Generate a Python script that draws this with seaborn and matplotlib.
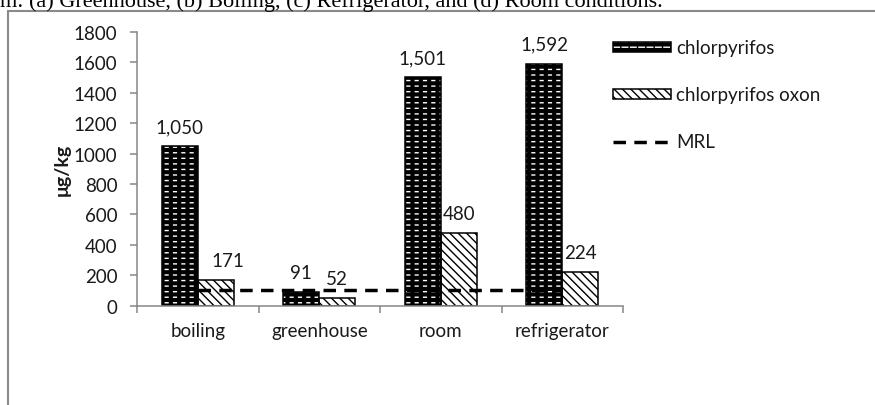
import numpy as np
import pandas as pd
import seaborn as sns
import matplotlib.pyplot as plt
from matplotlib.patches import Patch, Rectangle
from matplotlib.lines import Line2D
from matplotlib.legend_handler import HandlerTuple

# data
conditions = ["boiling", "greenhouse", "room", "refrigerator"]
chlorpyrifos = [1050, 91, 1501, 1592]
oxon = [171, 52, 480, 224]
mrl = [100, 100, 100, 100]
series = ["chlorpyrifos", "chlorpyrifos oxon"]
yticks = [0, 200, 400, 600, 800, 1000, 1200, 1400, 1600, 1800]
caption = "m: (a) Greenhouse, (b) Boiling, (c) Refrigerator, and (d) Room conditions."

sns.set_style("white")
plt.rcParams["font.family"] = ["Lato", "DejaVu Sans"]
plt.rcParams["hatch.linewidth"] = 1.0
FS = 13.5
GRAY = "#868686"
TXT = "#1a1a1a"

df = pd.DataFrame({
    "condition": conditions * 2,
    "value": chlorpyrifos + oxon,
    "series": [series[0]] * 4 + [series[1]] * 4,
})

fig = plt.figure(figsize=(8.75, 4.06), dpi=100)
ax = fig.add_axes([137 / 875, 99.3 / 406, 486 / 875, 273.7 / 406])

sns.barplot(data=df, x="condition", y="value", hue="series", order=conditions,
            hue_order=series, palette=["black", "white"], width=0.59,
            legend=False, ax=ax)

# chlorpyrifos: black with white dashed rows (white lines broken by thick black verticals)
for bar in ax.containers[0]:
    bar.set_facecolor("black")
    bar.set_edgecolor("white")
    bar.set_hatch("---")
    bar.set_linewidth(0)
with plt.rc_context({"hatch.linewidth": 3.0}):
    for bar in ax.containers[0]:
        ax.add_patch(Rectangle(bar.get_xy(), bar.get_width(), bar.get_height(),
                               fill=False, edgecolor="black", hatch="||", lw=1.1))
    h1b = Patch(fill=False, edgecolor="black", hatch="||", lw=1.1)
# oxon: white with dense diagonal hatching
for bar in ax.containers[1]:
    bar.set_facecolor("white")
    bar.set_edgecolor("black")
    bar.set_linewidth(1.1)
    bar.set_hatch("\\\\\\\\")

# value labels
for i, cont in enumerate(ax.containers[:2]):
    lbls = ax.bar_label(cont, labels=[f"{int(v.get_height()):,}" for v in cont],
                        padding=8, fontsize=FS, color=TXT)
    if i == 1:
        lbls[0].xyann = (9, 8)

# MRL dashed line
ax.plot(np.arange(len(conditions)), mrl, color="black", lw=2.5,
        dashes=(3.6, 2.4), zorder=5)

ax.set_ylim(0, 1800)
ax.set_xlim(-0.5, len(conditions) - 0.5)
ax.set_yticks(yticks)
ax.set_yticklabels([str(t) for t in yticks], fontsize=FS, color=TXT)
ax.set_xticks(np.arange(len(conditions) + 1) - 0.5)
ax.set_xticklabels([])
ax.set_xticks(np.arange(len(conditions)), minor=True)
ax.set_xticklabels(conditions, minor=True, fontsize=FS, color=TXT)
ax.tick_params(axis="x", which="major", direction="out", length=5, width=1.1,
               color=GRAY, bottom=True)
ax.tick_params(axis="x", which="minor", length=0, pad=12)
ax.tick_params(axis="y", direction="out", length=5, width=1.1, color=GRAY,
               left=True, pad=9)
ax.set_xlabel("")
ax.set_ylabel("\u03bcg/kg", fontsize=FS + 0.5, fontweight="bold", color=TXT)
ax.yaxis.set_label_coords(-0.136, 0.5)
sns.despine(ax=ax)
for s in ["left", "bottom"]:
    ax.spines[s].set_color(GRAY)
    ax.spines[s].set_linewidth(1.1)

# legend (first handle: two patches stacked on top of each other)
h1 = (Patch(facecolor="black", edgecolor="white", hatch="---", lw=0), h1b)
h2 = Patch(facecolor="white", edgecolor="black", hatch="\\\\\\\\", lw=1.1)
h3 = Line2D([], [], color="black", lw=2.5, dashes=(3.6, 2.4))
fig.legend([h1, h2, h3], [series[0], series[1], "MRL"],
           handler_map={tuple: HandlerTuple(ndivide=1)},
           loc="center left", bbox_to_anchor=(613 / 875, 1 - 96 / 406),
           frameon=False, fontsize=FS, handlelength=3.1, handleheight=0.4,
           handletextpad=0.27, labelspacing=1.6, borderpad=0,
           borderaxespad=0, labelcolor=TXT)

# frame and cropped caption from the page
fig.add_artist(Rectangle((8 / 875, -0.1), 1.2, 1.1 - 11.5 / 406,
                         transform=fig.transFigure, fill=False,
                         edgecolor="#8a8a8a", lw=1.5))
fig.text(0.0, 1 - 7 / 406, caption, family="Liberation Serif", fontsize=16,
         va="baseline", ha="left", color="black")

fig.savefig("out.png", dpi=100)
